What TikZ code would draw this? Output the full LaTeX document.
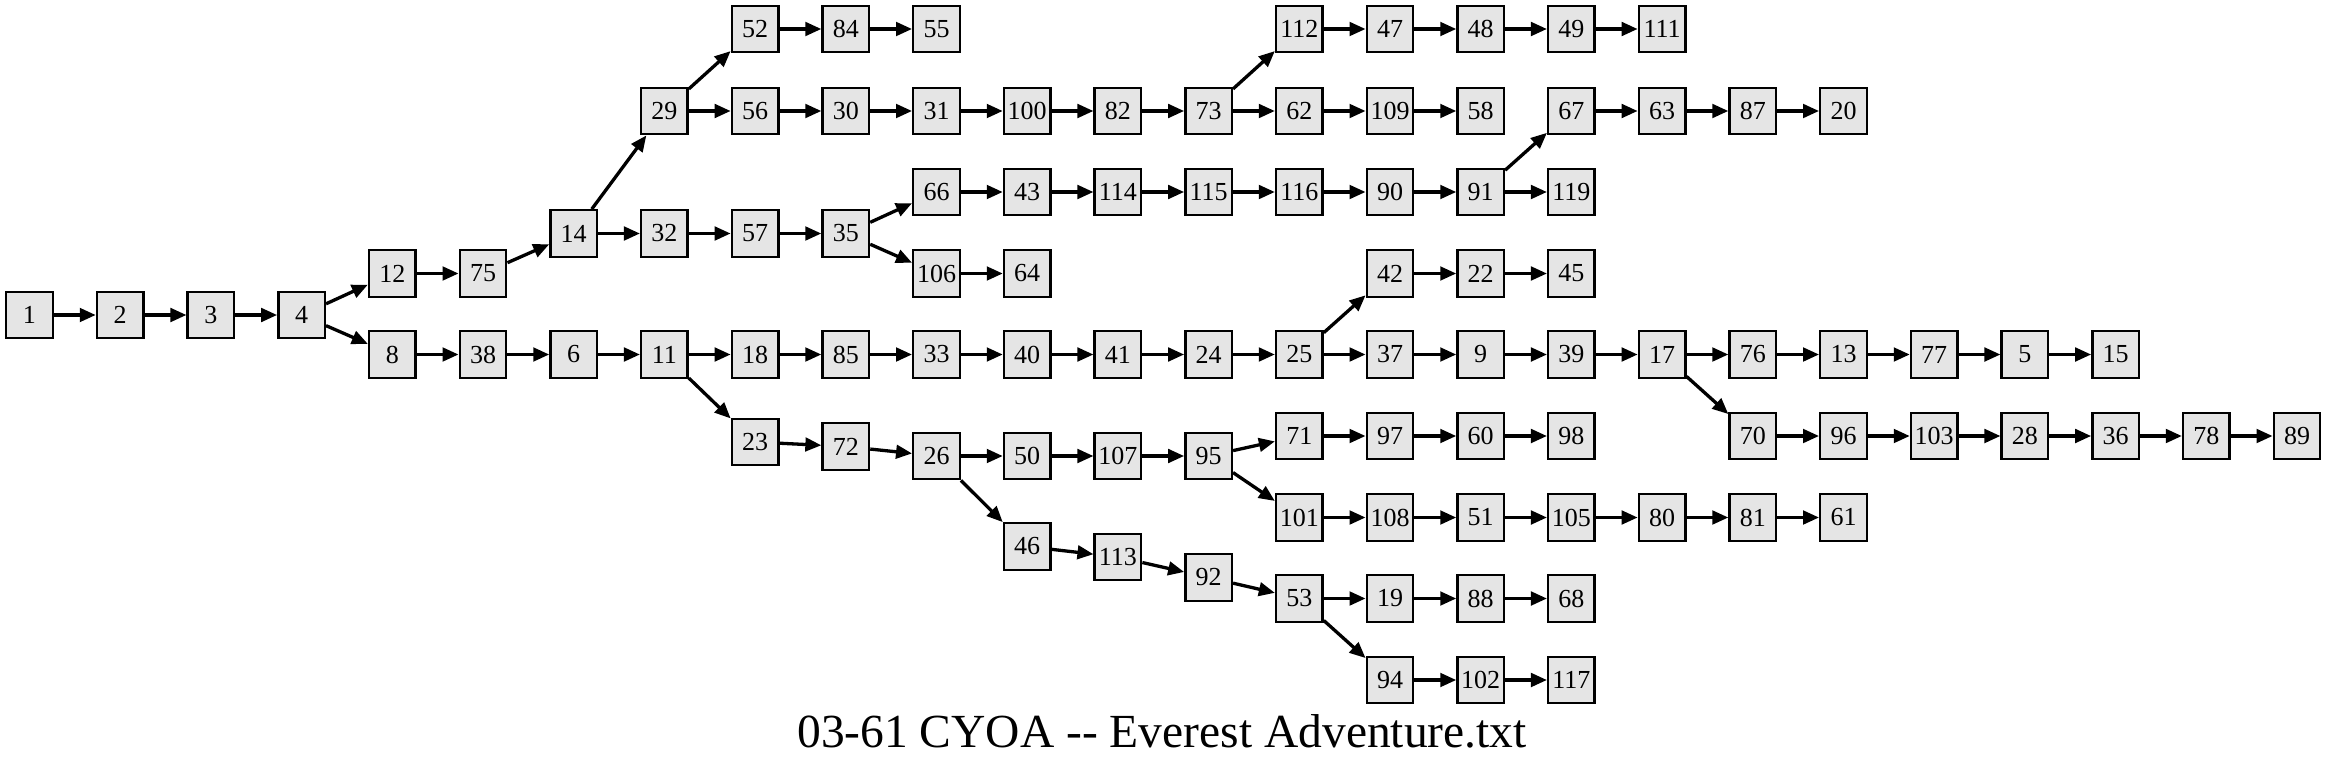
\documentclass[tikz,border=0pt]{standalone}
\usepackage{fontspec}
\setmainfont{Liberation Serif}
\usetikzlibrary{arrows.meta}
\definecolor{boxfill}{RGB}{229,229,229}
\newcommand{\mynode}[3]{\node[gvbox] (n#1) at ({29.5+90.7*#2},#3) {#1};}
\tikzset{
  gvbox/.style={draw=black, line width=2.4pt, fill=boxfill, minimum width=46.5pt,
    minimum height=46.5pt, inner sep=0pt, font=\fontsize{26}{26}\selectfont},
  gvedge/.style={line width=3.3pt, -{Triangle[length=16pt,width=13.5pt]}}
}
\begin{document}
\begin{tikzpicture}[x=1pt,y=-1pt]
\useasboundingbox (0,0) rectangle (2325,768);
% row values
\def\rA{29}\def\rB{111}\def\rC{192}\def\rD{233.5}\def\rE{273.5}
\def\rG{315}\def\rF{354.5}\def\rH{436}\def\rI{456}\def\rJ{517.5}
\def\rK{598.5}\def\rL{680}
\mynode{1}{0}{\rG}
\mynode{2}{1}{\rG}
\mynode{3}{2}{\rG}
\mynode{4}{3}{\rG}
\mynode{12}{4}{\rE}
\mynode{8}{4}{\rF}
\mynode{75}{5}{\rE}
\mynode{38}{5}{\rF}
\mynode{14}{6}{\rD}
\mynode{6}{6}{\rF}
\mynode{29}{7}{\rB}
\mynode{32}{7}{\rD}
\mynode{11}{7}{\rF}
\mynode{52}{8}{\rA}
\mynode{56}{8}{\rB}
\mynode{57}{8}{\rD}
\mynode{18}{8}{\rF}
\mynode{23}{8}{442}
\mynode{84}{9}{\rA}
\mynode{30}{9}{\rB}
\mynode{35}{9}{\rD}
\mynode{85}{9}{\rF}
\mynode{72}{9}{446.5}
\mynode{55}{10}{\rA}
\mynode{31}{10}{\rB}
\mynode{66}{10}{\rC}
\mynode{106}{10}{\rE}
\mynode{33}{10}{\rF}
\mynode{26}{10}{\rI}
\mynode{100}{11}{\rB}
\mynode{43}{11}{\rC}
\mynode{64}{11}{\rE}
\mynode{40}{11}{\rF}
\mynode{50}{11}{\rI}
\mynode{46}{11}{546.5}
\mynode{82}{12}{\rB}
\mynode{114}{12}{\rC}
\mynode{41}{12}{\rF}
\mynode{107}{12}{\rI}
\mynode{113}{12}{557}
\mynode{73}{13}{\rB}
\mynode{115}{13}{\rC}
\mynode{24}{13}{\rF}
\mynode{95}{13}{\rI}
\mynode{92}{13}{577.5}
\mynode{112}{14}{\rA}
\mynode{62}{14}{\rB}
\mynode{116}{14}{\rC}
\mynode{25}{14}{\rF}
\mynode{71}{14}{\rH}
\mynode{101}{14}{\rJ}
\mynode{53}{14}{\rK}
\mynode{47}{15}{\rA}
\mynode{109}{15}{\rB}
\mynode{90}{15}{\rC}
\mynode{42}{15}{\rE}
\mynode{37}{15}{\rF}
\mynode{97}{15}{\rH}
\mynode{108}{15}{\rJ}
\mynode{19}{15}{\rK}
\mynode{94}{15}{\rL}
\mynode{48}{16}{\rA}
\mynode{58}{16}{\rB}
\mynode{91}{16}{\rC}
\mynode{22}{16}{\rE}
\mynode{9}{16}{\rF}
\mynode{60}{16}{\rH}
\mynode{51}{16}{\rJ}
\mynode{88}{16}{\rK}
\mynode{102}{16}{\rL}
\mynode{49}{17}{\rA}
\mynode{67}{17}{\rB}
\mynode{119}{17}{\rC}
\mynode{45}{17}{\rE}
\mynode{39}{17}{\rF}
\mynode{98}{17}{\rH}
\mynode{105}{17}{\rJ}
\mynode{68}{17}{\rK}
\mynode{117}{17}{\rL}
\mynode{111}{18}{\rA}
\mynode{63}{18}{\rB}
\mynode{17}{18}{\rF}
\mynode{80}{18}{\rJ}
\mynode{87}{19}{\rB}
\mynode{76}{19}{\rF}
\mynode{70}{19}{\rH}
\mynode{81}{19}{\rJ}
\mynode{20}{20}{\rB}
\mynode{13}{20}{\rF}
\mynode{96}{20}{\rH}
\mynode{61}{20}{\rJ}
\mynode{77}{21}{\rF}
\mynode{103}{21}{\rH}
\mynode{5}{22}{\rF}
\mynode{28}{22}{\rH}
\mynode{15}{23}{\rF}
\mynode{36}{23}{\rH}
\mynode{78}{24}{\rH}
\mynode{89}{25}{\rH}
\foreach \a/\b in {1/2, 2/3, 3/4, 4/12, 4/8, 12/75, 75/14, 14/29, 14/32, 29/52, 29/56,
  52/84, 84/55, 56/30, 30/31, 31/100, 100/82, 82/73, 73/112, 73/62, 112/47, 47/48,
  48/49, 49/111, 62/109, 109/58, 32/57, 57/35, 35/66, 35/106, 66/43, 43/114, 114/115,
  115/116, 116/90, 90/91, 91/67, 91/119, 67/63, 63/87, 87/20, 106/64, 8/38, 38/6, 6/11,
  11/18, 11/23, 18/85, 85/33, 33/40, 40/41, 41/24, 24/25, 25/42, 25/37, 42/22, 22/45,
  37/9, 9/39, 39/17, 17/76, 17/70, 76/13, 13/77, 77/5, 5/15, 70/96, 96/103, 103/28,
  28/36, 36/78, 78/89, 23/72, 72/26, 26/50, 26/46, 50/107, 107/95, 95/71, 95/101,
  71/97, 97/60, 60/98, 101/108, 108/51, 51/105, 105/80, 80/81, 81/61, 46/113, 113/92,
  92/53, 53/19, 53/94, 19/88, 88/68, 94/102, 102/117}
  \draw[gvedge] (n\a) -- (n\b);
\node[anchor=base, inner sep=0pt, font=\fontsize{47.5}{47.5}\selectfont] (title) at (1162,747)
  {03-61 CYOA -\kern0pt- Everest Adventure.txt};
\end{tikzpicture}
\end{document}
